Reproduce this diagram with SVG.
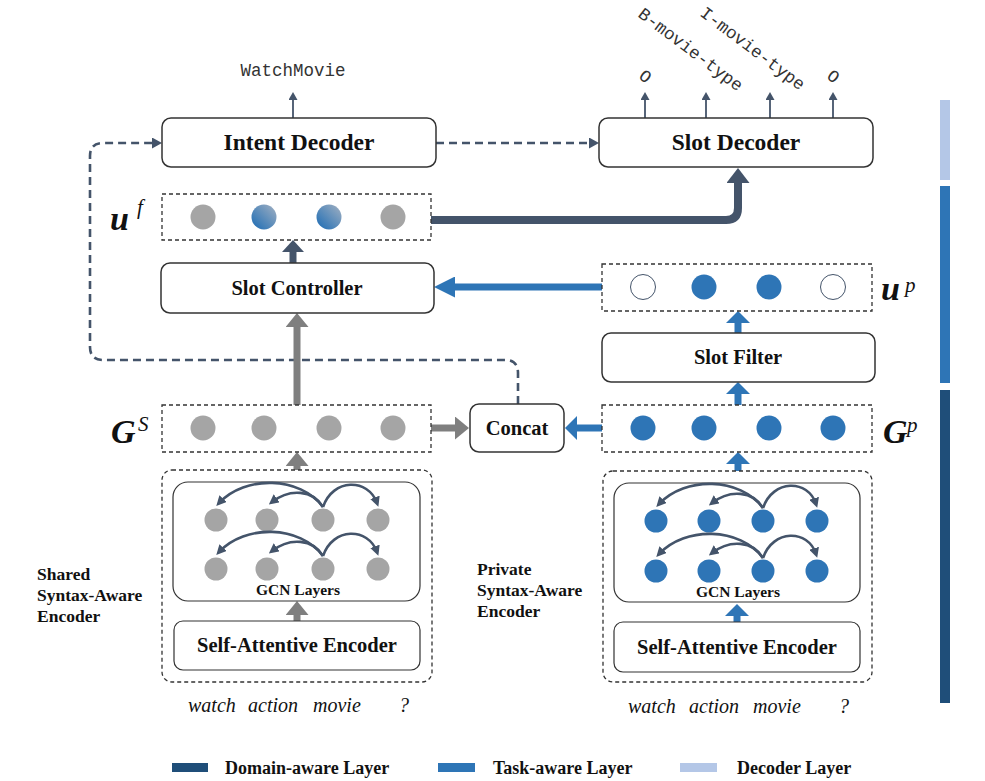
<svg xmlns="http://www.w3.org/2000/svg" width="985" height="781" viewBox="0 0 985 781">
<style>
.box{fill:#fff;stroke:#333;stroke-width:1.5}
.dbox{fill:none;stroke:#333;stroke-width:1.3;stroke-dasharray:4 3}
.lbl{font-family:"Liberation Serif","Times New Roman",Tinos,"DejaVu Serif",serif;font-weight:bold;fill:#111;text-anchor:middle}
.side{font-family:"Liberation Serif","Times New Roman",Tinos,"DejaVu Serif",serif;font-weight:bold;fill:#111;font-size:17.5px}
.mono{font-family:"Liberation Mono","Courier New",Cousine,"DejaVu Sans Mono",monospace;fill:#333;font-size:17.5px}
.word{font-family:"Liberation Serif","Times New Roman",Tinos,"DejaVu Serif",serif;font-style:italic;fill:#111;font-size:20px}
.math{font-family:"Liberation Serif","Times New Roman",Tinos,"DejaVu Serif",serif;font-weight:bold;font-style:italic;fill:#111;font-size:34px}
.sup{font-family:"Liberation Serif","Times New Roman",Tinos,"DejaVu Serif",serif;font-style:italic;fill:#111;font-size:21px}
.leg{font-family:"Liberation Serif","Times New Roman",Tinos,"DejaVu Serif",serif;font-weight:bold;fill:#111;font-size:18px}
.gn{fill:#A5A5A5}
.bn{fill:#2E75B6}
.thin{fill:none;stroke:#44546A;stroke-width:1.8}
.dash{fill:none;stroke:#44546A;stroke-width:2.6;stroke-dasharray:8 5}
.arc{fill:none;stroke:#44546A;stroke-width:2.6}
.ga{fill:none;stroke:#7F7F7F;stroke-width:7}
.ba{fill:none;stroke:#2E75B6;stroke-width:7}
.da{fill:none;stroke:#44546A;stroke-width:7}
</style>
<defs>
<linearGradient id="mix" x1="0" y1="1" x2="1" y2="0">
<stop offset="0.15" stop-color="#2E75B6"/>
<stop offset="1" stop-color="#A3B1C2"/>
</linearGradient>
<marker id="mt" markerUnits="userSpaceOnUse" markerWidth="8" markerHeight="9" refX="0" refY="4.5" orient="auto"><path d="M0,0 L8,4.5 L0,9 z" fill="#44546A"/></marker>
<marker id="md" markerUnits="userSpaceOnUse" markerWidth="10" markerHeight="11" refX="0" refY="5.5" orient="auto"><path d="M0,0 L10,5.5 L0,11 z" fill="#44546A"/></marker>
<marker id="ma" markerUnits="userSpaceOnUse" markerWidth="10" markerHeight="10" refX="6" refY="5" orient="auto"><path d="M0,0 L10,5 L0,10 z" fill="#44546A"/></marker>
<marker id="hg" markerUnits="userSpaceOnUse" markerWidth="14" markerHeight="23" refX="0" refY="11.5" orient="auto"><path d="M0,0 L14,11.5 L0,23 z" fill="#7F7F7F"/></marker>
<marker id="hb" markerUnits="userSpaceOnUse" markerWidth="12" markerHeight="24" refX="0" refY="12" orient="auto"><path d="M0,0 L12,12 L0,24 z" fill="#2E75B6"/></marker>
<marker id="hbL" markerUnits="userSpaceOnUse" markerWidth="21" markerHeight="21" refX="0" refY="10.5" orient="auto"><path d="M0,0 L21,10.5 L0,21 z" fill="#2E75B6"/></marker>
<marker id="hd" markerUnits="userSpaceOnUse" markerWidth="12" markerHeight="22" refX="0" refY="11" orient="auto"><path d="M0,0 L12,11 L0,22 z" fill="#44546A"/></marker>
<marker id="hD" markerUnits="userSpaceOnUse" markerWidth="15" markerHeight="23" refX="0" refY="11.5" orient="auto"><path d="M0,0 L15,11.5 L0,23 z" fill="#44546A"/></marker>
</defs>
<rect width="985" height="781" fill="#fff"/>

<!-- side bars -->
<g id="bars">
<rect x="940" y="100" width="10" height="80" fill="#B4C7E7"/>
<rect x="940" y="186" width="10" height="197" fill="#2E75B6"/>
<rect x="940" y="390" width="10" height="313" fill="#1F4E79"/>
</g>

<!-- connectors -->
<g id="connectors">
<path class="thin" d="M293,118 V100" marker-end="url(#mt)"/>
<path class="thin" d="M645,118 V100" marker-end="url(#mt)"/>
<path class="thin" d="M706,118 V100" marker-end="url(#mt)"/>
<path class="thin" d="M770,118 V100" marker-end="url(#mt)"/>
<path class="thin" d="M833,118 V100" marker-end="url(#mt)"/>
<path class="dash" d="M436,143 H589" marker-end="url(#md)"/>
<path class="dash" d="M518,404 V373 Q518,360 505,360 H103 Q90,360 90,347 V156 Q90,143 103,143 H152" marker-end="url(#md)"/>
<path class="da" d="M293,263 V252" marker-end="url(#hd)"/>
<path class="da" style="stroke-width:8" d="M431,220 H726 Q738,220 738,208 V183" marker-end="url(#hD)"/>
<path class="ga" d="M297,405 V327" marker-end="url(#hg)"/>
<path class="ga" d="M431,428 H455" marker-end="url(#hg)"/>
<path class="ga" d="M297,470 V466" marker-end="url(#hg)"/>
<path class="ga" d="M297,621 V615" marker-end="url(#hg)"/>
<path class="ba" d="M602,287 H455" marker-end="url(#hbL)"/>
<path class="ba" d="M738,333 V323" marker-end="url(#hb)"/>
<path class="ba" d="M738,405 V394" marker-end="url(#hb)"/>
<path class="ba" d="M738,471 V464" marker-end="url(#hb)"/>
<path class="ba" d="M737,622 V616" marker-end="url(#hb)"/>
<path class="ba" d="M602,428 H577" marker-end="url(#hb)"/>
</g>

<!-- outputs -->
<g id="outputs">
<text class="mono" x="293" y="76" text-anchor="middle">WatchMovie</text>
<text class="mono" text-anchor="middle" transform="translate(642,81) rotate(37)">O</text>
<text class="mono" transform="translate(637,16) rotate(37)">B-movie-type</text>
<text class="mono" transform="translate(699,15) rotate(37)">I-movie-type</text>
<text class="mono" text-anchor="middle" transform="translate(830,81) rotate(37)">O</text>
</g>

<g id="intent-decoder">
<rect class="box" x="162" y="118" width="274" height="49" rx="9"/>
<text class="lbl" x="299" y="150" font-size="23.5">Intent Decoder</text>
</g>
<g id="slot-decoder">
<rect class="box" x="599" y="118" width="274" height="49" rx="9"/>
<text class="lbl" x="736" y="150" font-size="23.5">Slot Decoder</text>
</g>

<g id="uf">
<rect class="dbox" x="162" y="194" width="269" height="46"/>
<circle class="gn" cx="203" cy="217" r="12.5"/>
<circle cx="264" cy="217" r="12.5" fill="url(#mix)"/>
<circle cx="329" cy="217" r="12.5" fill="url(#mix)"/>
<circle class="gn" cx="393" cy="217" r="12.5"/>
<text class="math" x="110" y="230" font-size="39">u</text>
<text class="sup" x="137" y="214">f</text>
</g>

<g id="slot-controller">
<rect class="box" x="161" y="263" width="273" height="50" rx="9"/>
<text class="lbl" x="297" y="295" font-size="20.5">Slot Controller</text>
</g>

<g id="up">
<rect class="dbox" x="602" y="264" width="270" height="47"/>
<circle cx="643" cy="287" r="12.5" fill="#fff" stroke="#44546A" stroke-width="1"/>
<circle class="bn" cx="704" cy="287" r="12.5"/>
<circle class="bn" cx="769" cy="287" r="12.5"/>
<circle cx="833" cy="287" r="12.5" fill="#fff" stroke="#44546A" stroke-width="1"/>
<text class="math" x="881" y="300" font-size="39">u</text>
<text class="sup" x="905" y="292">p</text>
</g>

<g id="slot-filter">
<rect class="box" x="602" y="333" width="273" height="49" rx="9"/>
<text class="lbl" x="738" y="364" font-size="20.5">Slot Filter</text>
</g>

<g id="gs">
<rect class="dbox" x="162" y="405" width="269" height="47"/>
<circle class="gn" cx="203" cy="428" r="12.5"/>
<circle class="gn" cx="264" cy="428" r="12.5"/>
<circle class="gn" cx="329" cy="428" r="12.5"/>
<circle class="gn" cx="393" cy="428" r="12.5"/>
<text class="math" x="111" y="443">G</text>
<text class="sup" x="138" y="431" font-size="19">S</text>
</g>

<g id="concat">
<rect class="box" x="470" y="404" width="94" height="48" rx="9"/>
<text class="lbl" x="517" y="435" font-size="20.5">Concat</text>
</g>

<g id="gp">
<rect class="dbox" x="602" y="405" width="270" height="47"/>
<circle class="bn" cx="643" cy="428" r="12.5"/>
<circle class="bn" cx="704" cy="428" r="12.5"/>
<circle class="bn" cx="769" cy="428" r="12.5"/>
<circle class="bn" cx="833" cy="428" r="12.5"/>
<text class="math" x="883" y="443">G</text>
<text class="sup" x="907" y="432">p</text>
</g>

<g id="shared-encoder">
<rect class="dbox" x="162" y="470" width="270" height="212" rx="10"/>
<rect class="box" x="173" y="482" width="247" height="119" rx="15" style="stroke-width:1.2"/>
<g class="gn">
<circle cx="216" cy="520" r="11.5"/><circle cx="267" cy="520" r="11.5"/><circle cx="323" cy="520" r="11.5"/><circle cx="378" cy="520" r="11.5"/>
<circle cx="216" cy="569" r="11.5"/><circle cx="267" cy="569" r="11.5"/><circle cx="323" cy="569" r="11.5"/><circle cx="378" cy="569" r="11.5"/>
</g>
<path class="arc" d="M323,507 C300,476 245,475 219,503" marker-end="url(#ma)"/>
<path class="arc" d="M323,507 C313,490 290,488 272,502" marker-end="url(#ma)"/>
<path class="arc" d="M323,507 C333,478 368,478 377,503" marker-end="url(#ma)"/>
<path class="arc" d="M323,556 C300,525 245,524 219,552" marker-end="url(#ma)"/>
<path class="arc" d="M323,556 C313,539 290,537 272,551" marker-end="url(#ma)"/>
<path class="arc" d="M323,556 C333,527 368,527 377,552" marker-end="url(#ma)"/>
<text class="lbl" x="298" y="595" font-size="15.5">GCN Layers</text>
<rect class="box" x="174" y="621" width="246" height="49" rx="9" style="stroke-width:1.2"/>
<text class="lbl" x="297" y="652" font-size="20.5">Self-Attentive Encoder</text>
<text class="side" x="37" y="580">Shared</text>
<text class="side" x="37" y="601">Syntax-Aware</text>
<text class="side" x="37" y="622">Encoder</text>
<text class="word" x="188" y="712">watch</text>
<text class="word" x="248" y="712">action</text>
<text class="word" x="313" y="712">movie</text>
<text class="word" x="399" y="712">?</text>
</g>

<g id="private-encoder">
<rect class="dbox" x="603" y="471" width="269" height="211" rx="10"/>
<rect class="box" x="614" y="483" width="246" height="119" rx="15" style="stroke-width:1.2"/>
<g class="bn">
<circle cx="656" cy="521" r="11.5"/><circle cx="709" cy="521" r="11.5"/><circle cx="763" cy="521" r="11.5"/><circle cx="817" cy="521" r="11.5"/>
<circle cx="656" cy="571" r="11.5"/><circle cx="709" cy="571" r="11.5"/><circle cx="763" cy="571" r="11.5"/><circle cx="817" cy="571" r="11.5"/>
</g>
<path class="arc" d="M763,508 C740,477 685,476 659,504" marker-end="url(#ma)"/>
<path class="arc" d="M763,508 C753,491 730,489 712,503" marker-end="url(#ma)"/>
<path class="arc" d="M763,508 C773,479 808,479 816,504" marker-end="url(#ma)"/>
<path class="arc" d="M763,558 C740,527 685,526 659,554" marker-end="url(#ma)"/>
<path class="arc" d="M763,558 C753,541 730,539 712,553" marker-end="url(#ma)"/>
<path class="arc" d="M763,558 C773,529 808,529 816,554" marker-end="url(#ma)"/>
<text class="lbl" x="738" y="597" font-size="15.5">GCN Layers</text>
<rect class="box" x="614" y="622" width="246" height="50" rx="9" style="stroke-width:1.2"/>
<text class="lbl" x="737" y="654" font-size="20.5">Self-Attentive Encoder</text>
<text class="side" x="477" y="575">Private</text>
<text class="side" x="477" y="596">Syntax-Aware</text>
<text class="side" x="477" y="617">Encoder</text>
<text class="word" x="628" y="713">watch</text>
<text class="word" x="689" y="713">action</text>
<text class="word" x="753" y="713">movie</text>
<text class="word" x="839" y="713">?</text>
</g>

<g id="legend">
<rect x="172" y="763" width="36" height="9" fill="#1F4E79"/>
<text class="leg" x="225" y="774">Domain-aware Layer</text>
<rect x="438" y="763" width="37" height="9" fill="#2E75B6"/>
<text class="leg" x="493" y="774">Task-aware Layer</text>
<rect x="680" y="763" width="37" height="9" fill="#B4C7E7"/>
<text class="leg" x="737" y="774">Decoder Layer</text>
</g>
</svg>
